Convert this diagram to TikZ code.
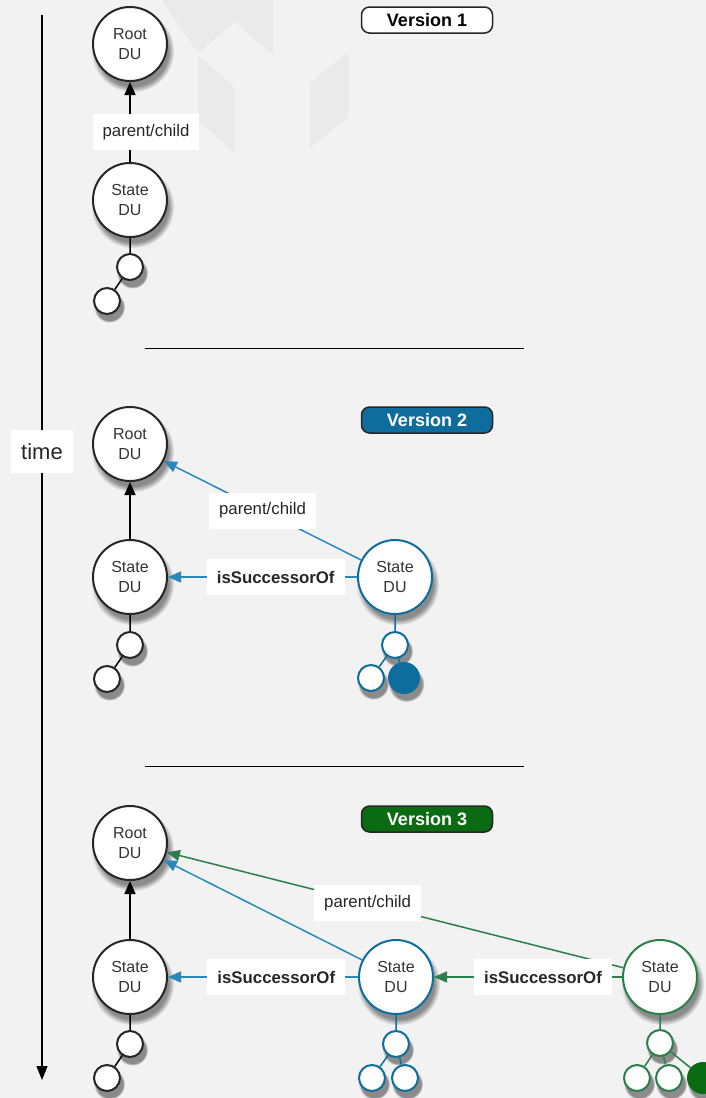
\documentclass[tikz,border=0pt]{standalone}
\usepackage{fontspec}
\setmainfont{Liberation Sans}
\usetikzlibrary{arrows.meta,shadows}
\usepackage{color}
\definecolor{bggray}{HTML}{F2F2F2}
\definecolor{wmgray}{HTML}{EAEAEA}
\definecolor{vblue}{HTML}{0F6D9E}
\definecolor{lblue}{HTML}{2A88BA}
\definecolor{vgreen}{HTML}{0A6B12}
\definecolor{lgreen}{HTML}{2B7F4A}
\begin{document}
\begin{tikzpicture}[x=0.5pt,y=-0.5pt,
        du/.style={circle,draw=black!85,line width=1pt,fill=white,minimum size=37pt,inner sep=0pt,
          align=center,text=black!80,font=\fontsize{8}{10}\selectfont,
          circular drop shadow={shadow xshift=1.2pt,shadow yshift=-3pt,shadow scale=1.12,opacity=0.9}},
        leaf/.style={circle,draw=black!85,line width=1pt,fill=white,minimum size=13pt,inner sep=0pt,
          circular drop shadow={shadow xshift=1pt,shadow yshift=-2.5pt,shadow scale=1.2,opacity=0.9}},
        lbl/.style={fill=white,inner xsep=5pt,inner ysep=0pt,minimum height=18pt,text=black!85,
          font=\fontsize{8.4}{10}\selectfont},
        succ/.style={lbl,font=\fontsize{8.4}{10}\selectfont\bfseries},
        badge/.style={draw=black!85,line width=0.75pt,rounded corners=4pt,minimum width=65.5pt,
          minimum height=13pt,inner sep=0pt,font=\fontsize{9}{10}\selectfont\bfseries},
        link/.style={line width=0.75pt},
        tip/.style={-{Triangle[length=6.5pt,width=5.5pt]}}]
        \path[use as bounding box,fill=bggray] (0,0) rectangle (706,1098);
        \fill[wmgray] (162,0) -- (235,0) -- (235,22) -- (198,53) -- cycle;
        \fill[wmgray] (235,0) -- (273,0) -- (273,55) -- (235,22) -- cycle;
        \fill[wmgray] (198,55) -- (235,88) -- (235,153) -- (198,120) -- cycle;
        \fill[wmgray] (310,83) -- (348,52) -- (348,117) -- (310,148) -- cycle;

        \coordinate (t0) at (42,15);
        \coordinate (t1) at (42,1080);
        \draw[line width=0.6pt,-{Triangle[length=7pt,width=5.5pt]}] (t0) -- node[lbl,pos=0.41,
          font=\fontsize{11}{12}\selectfont,minimum height=21.5pt] {time} (t1);
        \coordinate (s1a) at (145,348);
        \coordinate (s1b) at (524,348);
        \coordinate (s2a) at (145,766);
        \coordinate (s2b) at (524,766);
        \draw[line width=0.5pt] (s1a) -- (s1b);
        \draw[line width=0.5pt] (s2a) -- (s2b);

        \node[badge,fill=white] (ver1) at (427,20) {Version 1};
        \node[du] (root1) at (130,44) {Root\\DU};
        \node[du] (state1) at (130,200) {State\\DU};
        \node[leaf] (st1a) at (130,267) {};
        \node[leaf] (st1b) at (107,301) {};
        \draw[link,tip] (state1) -- node[lbl,pos=0.37,xshift=8pt] {parent/child} (root1);
        \draw[link] (state1) -- (st1a) -- (st1b);

        \node[badge,fill=vblue,text=white] (ver2) at (427,420) {Version 2};
        \node[du] (root2) at (130,444) {Root\\DU};
        \node[du] (state2) at (130,577) {State\\DU};
        \node[leaf] (st2a) at (130,645) {};
        \node[leaf] (st2b) at (107,679) {};
        \node[du,draw=vblue] (nstate2) at (395,577) {State\\DU};
        \node[leaf,draw=vblue] (nst2a) at (395,645) {};
        \node[leaf,draw=vblue] (nst2b) at (371,678) {};
        \node[leaf,draw=vblue,fill=vblue,minimum size=15pt] (nst2c) at (404,678) {};
        \draw[link,tip] (state2) -- (root2);
        \draw[link] (state2) -- (st2a) -- (st2b);
        \draw[link,vblue] (nstate2) -- (nst2a) -- (nst2b);
        \draw[link,vblue] (nst2a) -- (nst2c);
        \draw[link,tip,lblue] (nstate2) -- node[lbl] {parent/child} (root2);
        \draw[link,tip,lblue] (nstate2) -- node[succ,pos=0.43] {isSuccessorOf} (state2);

        \node[badge,fill=vgreen,text=white] (ver3) at (427,819) {Version 3};
        \node[du] (root3) at (130,843) {Root\\DU};
        \node[du] (state3) at (130,977) {State\\DU};
        \node[leaf] (st3a) at (130,1044) {};
        \node[leaf] (st3b) at (107,1078) {};
        \node[du,draw=vblue] (mstate3) at (396,977) {State\\DU};
        \node[leaf,draw=vblue] (mst3a) at (396,1044) {};
        \node[leaf,draw=vblue] (mst3b) at (372,1078) {};
        \node[leaf,draw=vblue] (mst3c) at (405,1078) {};
        \node[du,draw=lgreen] (gstate3) at (660,977) {State\\DU};
        \node[leaf,draw=lgreen] (gst3a) at (660,1043) {};
        \node[leaf,draw=lgreen] (gst3b) at (637,1078) {};
        \node[leaf,draw=lgreen] (gst3c) at (669,1078) {};
        \node[leaf,draw=vgreen,fill=vgreen,minimum size=15pt] (gst3d) at (703,1078) {};
        \draw[link,tip] (state3) -- (root3);
        \draw[link] (state3) -- (st3a) -- (st3b);
        \draw[link,vblue] (mstate3) -- (mst3a) -- (mst3b);
        \draw[link,vblue] (mst3a) -- (mst3c);
        \draw[link,lgreen] (gstate3) -- (gst3a) -- (gst3b);
        \draw[link,lgreen] (gst3a) -- (gst3c);
        \draw[link,lgreen] (gst3a) -- (gst3d);
        \draw[link,tip,lblue] (mstate3) -- (root3);
        \draw[link,tip,lgreen] (gstate3) -- node[lbl,pos=0.56] {parent/child} (root3);
        \draw[link,tip,lblue] (mstate3) -- node[succ,pos=0.43] {isSuccessorOf} (state3);
        \draw[link,tip,lgreen] (gstate3) -- node[succ,pos=0.42] {isSuccessorOf} (mstate3);
\end{tikzpicture}
\end{document}
